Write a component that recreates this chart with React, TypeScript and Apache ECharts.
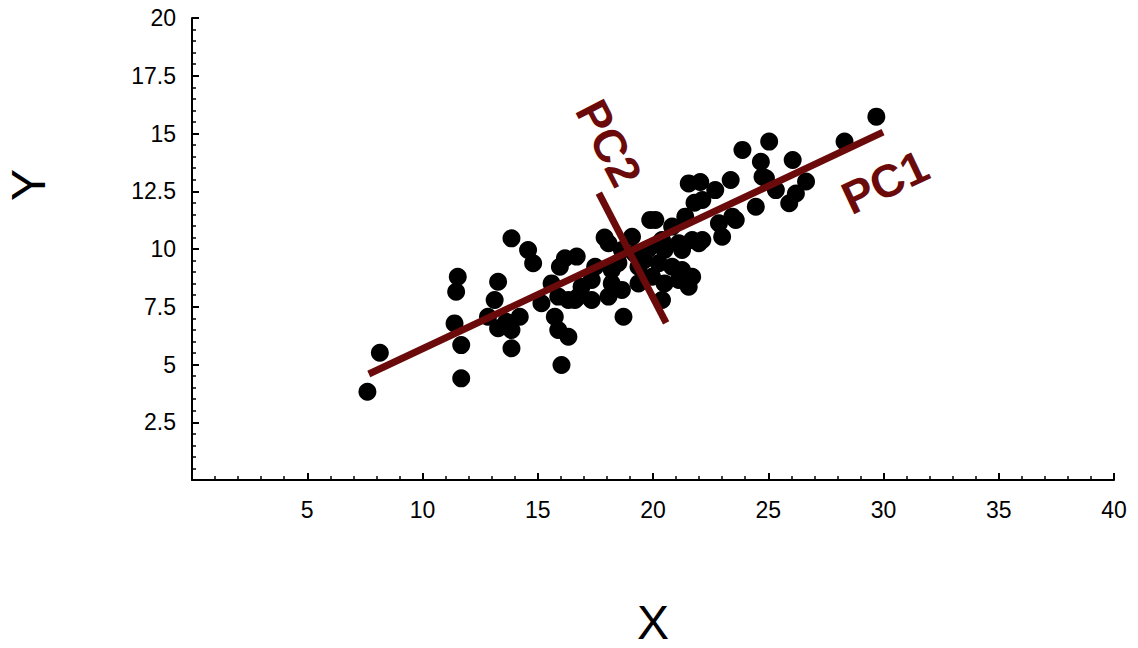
import React, { useEffect, useRef } from "react";
import * as echarts from "echarts";

const xs = [
  7.61, 8.15, 11.68, 11.68, 11.39, 11.46, 11.53, 13.28, 13.13, 12.84,
  13.64, 14.22, 13.28, 13.86, 13.86, 13.86, 14.58, 14.8, 16.18, 15.96,
  16.03, 15.16, 15.6, 15.89, 16.33, 15.74, 15.89, 16.33, 16.76, 16.69,
  17.49, 18.21, 17.34, 18.21, 16.9, 16.61, 17.34, 18.07, 18.65, 19.37,
  19.37, 19.96, 20.25, 20.83, 21.26, 20.5, 21.12, 21.55, 20.39, 18.72,
  19.88, 18.07, 17.9, 19.09, 18.65, 20.39, 21.12, 21.7, 20.83, 20.1,
  20.5, 21.26, 21.99, 21.7, 21.55, 22.05, 23.37, 22.7, 24.75, 24.46,
  23.59, 23.0, 22.14, 21.4, 21.8, 23.88, 24.68, 25.04, 26.06, 26.64,
  26.2, 25.91, 25.33, 24.9, 22.14, 23.44, 22.86, 28.31, 29.69, 19.2,
  19.8, 18.5, 19.6,
];
const ys = [
  3.82, 5.51, 4.4, 5.84, 6.78, 8.15, 8.8, 8.58, 7.79, 7.07,
  6.85, 7.07, 6.57, 6.49, 5.7, 10.46, 9.96, 9.38, 9.6, 9.23,
  4.98, 7.65, 8.51, 7.94, 7.79, 7.07, 6.49, 6.2, 7.94, 9.67,
  9.23, 9.09, 8.66, 8.51, 8.37, 7.79, 7.79, 7.94, 8.23, 8.51,
  9.23, 8.8, 9.38, 9.23, 9.09, 8.51, 8.66, 8.37, 7.79, 7.07,
  11.26, 10.25, 10.5, 10.53, 9.96, 10.39, 10.25, 10.39, 10.97, 11.26,
  9.96, 9.96, 10.25, 8.8, 12.84, 12.9, 12.99, 12.55, 13.13, 11.83,
  11.26, 10.53, 10.39, 11.4, 12.0, 14.29, 13.78, 14.65, 13.85, 12.92,
  12.4, 11.98, 12.55, 13.06, 12.12, 11.4, 11.11, 14.65, 15.73, 9.8,
  10.0, 9.4, 9.5,
];

const pc1X = [7.67, 29.98];
const pc1Y = [4.59, 15.06];
const pc2X = [17.65, 20.57];
const pc2Y = [12.42, 6.8];

const xTicks = [0, 5, 10, 15, 20, 25, 30, 35, 40];
const yTicks = [0, 2.5, 5, 7.5, 10, 12.5, 15, 17.5, 20];

const LINE_COLOR = "#6b0a0a";
const FONT = "'Liberation Sans', Arial, sans-serif";

export default function App() {
  const ref = useRef<HTMLDivElement>(null);
  useEffect(() => {
    if (!ref.current) return;
    const chart = echarts.init(ref.current, undefined, { renderer: "svg" });
    const pts = xs.map((x, i) => [x, ys[i]]);
    const axisCommon = {
      axisLine: { show: true, onZero: false, lineStyle: { color: "#000", width: 2 } },
      axisTick: { show: true, inside: true, length: 7, lineStyle: { color: "#000", width: 2 } },
      minorTick: { show: true, splitNumber: 5, length: 4, lineStyle: { color: "#000", width: 1.5 } },
      splitLine: { show: false },
    };
    chart.setOption({
      animation: false,
      backgroundColor: "#fff",
      grid: { left: 192, top: 18, right: 24, bottom: 168, containLabel: false },
      xAxis: {
        type: "value",
        min: xTicks[0],
        max: xTicks[xTicks.length - 1],
        interval: xTicks[1] - xTicks[0],
        ...axisCommon,
        axisLabel: {
          color: "#000",
          fontFamily: FONT,
          fontSize: 23,
          margin: 18,
          formatter: (v: number) => (v === 0 ? "" : String(v)),
        },
      },
      yAxis: {
        type: "value",
        min: yTicks[0],
        max: yTicks[yTicks.length - 1],
        interval: yTicks[1] - yTicks[0],
        ...axisCommon,
        axisLabel: {
          color: "#000",
          fontFamily: FONT,
          fontSize: 23,
          margin: 16,
          formatter: (v: number) => (v === 0 ? "" : String(v)),
        },
      },
      series: [
        {
          type: "scatter",
          data: pts,
          symbol: "circle",
          symbolSize: 18,
          itemStyle: { color: "#000", opacity: 1 },
          z: 2,
        },
        {
          type: "line",
          data: pc1X.map((x, i) => [x, pc1Y[i]]),
          symbol: "none",
          lineStyle: { color: LINE_COLOR, width: 7, cap: "butt" },
          z: 3,
        },
        {
          type: "line",
          data: pc2X.map((x, i) => [x, pc2Y[i]]),
          symbol: "none",
          lineStyle: { color: LINE_COLOR, width: 7, cap: "butt" },
          z: 3,
        },
      ],
      graphic: [
        {
          type: "text",
          x: 653,
          y: 622,
          style: {
            text: "X",
            fill: "#000",
            font: `48px ${FONT}`,
            lineHeight: 44,
            align: "center",
            verticalAlign: "middle",
          },
        },
        {
          type: "text",
          x: 28,
          y: 185,
          rotation: Math.PI / 2,
          style: {
            text: "Y",
            fill: "#000",
            font: `48px ${FONT}`,
            align: "center",
            verticalAlign: "middle",
          },
        },
        {
          type: "text",
          x: 885,
          y: 182,
          rotation: (25.3 * Math.PI) / 180,
          z: 10,
          style: {
            text: "PC1",
            fill: LINE_COLOR,
            font: `bold 46px ${FONT}`,
            align: "center",
            verticalAlign: "middle",
          },
        },
        {
          type: "text",
          x: 609,
          y: 143,
          rotation: (-62.7 * Math.PI) / 180,
          z: 10,
          style: {
            text: "PC2",
            fill: LINE_COLOR,
            font: `bold 46px ${FONT}`,
            align: "center",
            verticalAlign: "middle",
          },
        },
      ],
    });
    return () => chart.dispose();
  }, []);
  return <div ref={ref} style={{ width: 1138, height: 648, margin: -8 }} />;
}
